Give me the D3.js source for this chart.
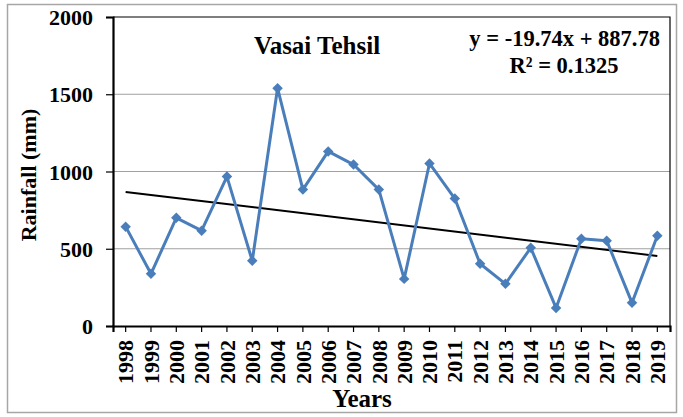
<!DOCTYPE html>
<html>
<head>
<meta charset="utf-8">
<script src="https://cdn.jsdelivr.net/npm/d3@7"></script>
<style>
  body { margin: 0; background: #fff; }
  text { font-family: "Liberation Serif", "Times New Roman", serif; font-weight: bold; fill: #000; }
</style>
</head>
<body>
<svg></svg>
<script>
// data
var years = ["1998","1999","2000","2001","2002","2003","2004","2005","2006","2007","2008",
             "2009","2010","2011","2012","2013","2014","2015","2016","2017","2018","2019"];
var rainfall = [643, 338, 700, 617, 967, 422, 1539, 883, 1130, 1045, 883,
                305, 1052, 825, 403, 273, 506, 117, 565, 552, 150, 584];
var yTicks = [0, 500, 1000, 1500, 2000];
var slope = -19.74;     // trend: y = slope * x + intercept
var intercept = 887.78;
var r2 = 0.1325;

var width = 683, height = 417;
var padL = 113, padR = 670, padT = 17, padB = 326;

var svg = d3.select("svg").attr("width", width).attr("height", height);

// outer frame
svg.append("rect")
  .attr("x", 7.5).attr("y", 4.5)
  .attr("width", 669).attr("height", 408)
  .attr("fill", "#fff").attr("stroke", "#a6a6a6").attr("stroke-width", 1.5);

var x = d3.scaleBand().domain(years).range([padL, padR]);
var y = d3.scaleLinear().domain([0, 2000]).range([padB, padT]);
var cx = function(d) { return x(d) + x.bandwidth() / 2; };

// gridlines
svg.append("g")
  .selectAll("line")
  .data(yTicks.filter(function(d) { return d > 0 && d < 2000; }))
  .enter()
  .append("line")
  .attr("x1", padL).attr("x2", padR)
  .attr("y1", function(d) { return y(d); })
  .attr("y2", function(d) { return y(d); })
  .attr("stroke", "#a0a0a0").attr("stroke-width", 1);

// plot border top + right
svg.append("path")
  .attr("d", "M" + padL + "," + y(2000) + "H" + padR + "V" + padB)
  .attr("fill", "none").attr("stroke", "#000").attr("stroke-width", 1.2);

// y axis
var yAxis = svg.append("g")
  .attr("transform", "translate(" + padL + ",0)")
  .call(d3.axisLeft(y).tickValues(yTicks).tickSize(7).tickPadding(13).tickFormat(d3.format("d")));
yAxis.select(".domain").attr("stroke-width", 2.2);
yAxis.selectAll(".tick line").attr("stroke-width", 1.2);
yAxis.selectAll("text").style("font-size", "22px").attr("dy", "0.35em");

// x axis
var xAxis = svg.append("g")
  .attr("transform", "translate(0," + padB + ")")
  .call(d3.axisBottom(x).tickSize(6).tickSizeOuter(6));
xAxis.select(".domain").attr("stroke-width", 2.2);
xAxis.selectAll(".tick line").attr("stroke-width", 1.2);
xAxis.selectAll("text")
  .style("font-size", "22px")
  .attr("text-anchor", "end")
  .attr("transform", "rotate(-90)")
  .attr("x", -14).attr("y", 0).attr("dy", "0.35em");

// trend line
var trend = [1, years.length];
svg.append("line")
  .attr("x1", cx(years[0]))
  .attr("y1", y(slope * trend[0] + intercept))
  .attr("x2", cx(years[years.length - 1]))
  .attr("y2", y(slope * trend[1] + intercept))
  .attr("stroke", "#000").attr("stroke-width", 2);

// series line
var line = d3.line()
  .x(function(d, i) { return cx(years[i]); })
  .y(function(d) { return y(d); });

svg.append("path")
  .datum(rainfall)
  .attr("d", line)
  .attr("fill", "none")
  .attr("stroke", "#4a7ebb")
  .attr("stroke-width", 3)
  .attr("stroke-linejoin", "round");

svg.append("g")
  .selectAll("path")
  .data(rainfall)
  .enter()
  .append("path")
  .attr("d", d3.symbol().type(d3.symbolDiamond2).size(70))
  .attr("transform", function(d, i) { return "translate(" + cx(years[i]) + "," + y(d) + ")"; })
  .attr("fill", "#4a7ebb");

// texts
svg.append("text")
  .attr("x", 317).attr("y", 54)
  .attr("text-anchor", "middle")
  .style("font-size", "25px")
  .text("Vasai Tehsil");

svg.append("text")
  .attr("x", 660).attr("y", 46)
  .attr("text-anchor", "end")
  .style("font-size", "22.5px")
  .text("y = " + slope + "x + " + intercept);

svg.append("text")
  .attr("x", 564).attr("y", 73)
  .attr("text-anchor", "middle")
  .style("font-size", "22.5px")
  .text("R² = " + r2);

svg.append("text")
  .attr("x", 362).attr("y", 407)
  .attr("text-anchor", "middle")
  .style("font-size", "25px")
  .text("Years");

svg.append("text")
  .attr("transform", "translate(36,175) rotate(-90)")
  .attr("text-anchor", "middle")
  .style("font-size", "22px")
  .text("Rainfall (mm)");
</script>
</body>
</html>
